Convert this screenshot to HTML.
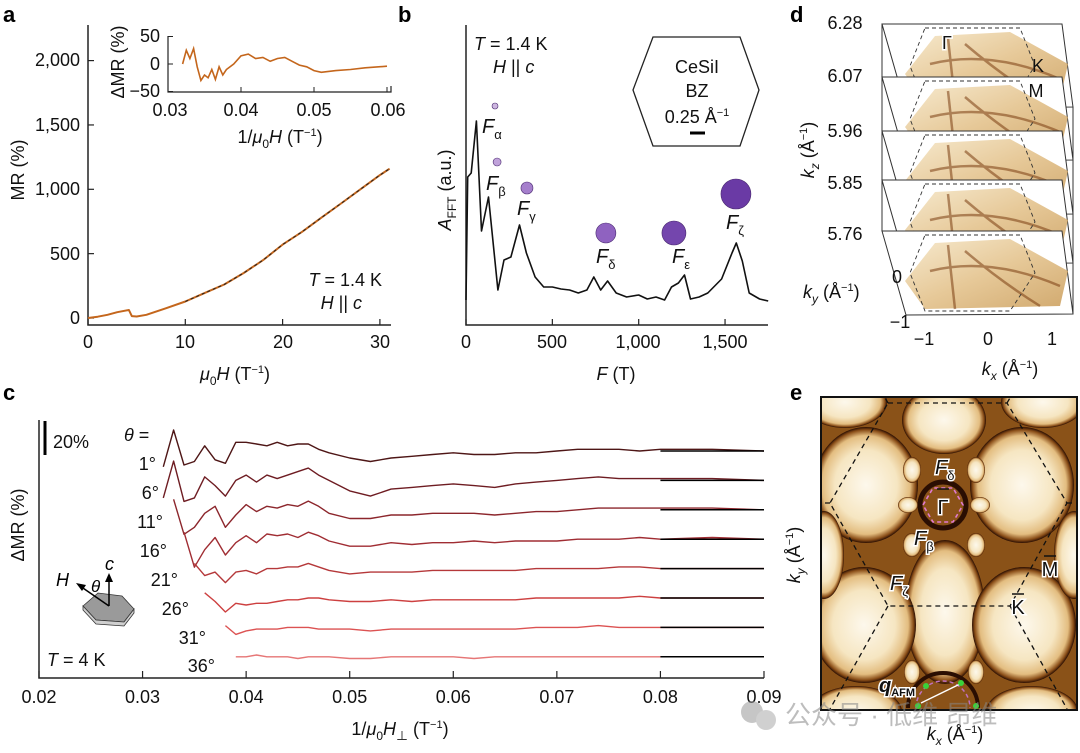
<!DOCTYPE html>
<html><head><meta charset="utf-8">
<style>
body{margin:0;background:#fff;}
svg{display:block;font-family:"Liberation Sans","Noto Sans CJK SC",sans-serif;}
.t{font-size:18px;fill:#111;}
.pl{font-size:22px;font-weight:bold;fill:#000;}
</style></head>
<body>
<svg id="fig" width="1080" height="753" viewBox="0 0 1080 753" xmlns="http://www.w3.org/2000/svg">
<defs>
<radialGradient id="eg" cx="50%" cy="50%" r="50%">
<stop offset="0%" stop-color="#fdf8ec"/><stop offset="60%" stop-color="#f6e6c2"/><stop offset="85%" stop-color="#e3bd80"/><stop offset="95%" stop-color="#8a4e18"/><stop offset="100%" stop-color="#2a0e02"/>
</radialGradient>
<linearGradient id="dg" x1="0" y1="0" x2="1" y2="1"><stop offset="0" stop-color="#f5e6c6"/><stop offset="0.5" stop-color="#e2bf86"/><stop offset="1" stop-color="#c99a55"/></linearGradient>
<clipPath id="eclip"><rect x="821" y="397" width="256" height="313"/></clipPath>
</defs>

<text class="pl" x="3" y="22">a</text>
<text class="pl" x="398" y="22">b</text>
<text class="pl" x="790" y="22">d</text>
<text class="pl" x="3" y="400">c</text>
<text class="pl" x="790" y="400">e</text>

<g id="pa">
<path d="M88,25 V325 H391" fill="none" stroke="#222" stroke-width="1.5"/>
<text class="t" x="80" y="324" text-anchor="end">0</text>
<text class="t" x="80" y="260" text-anchor="end">500</text>
<text class="t" x="80" y="195" text-anchor="end">1,000</text>
<text class="t" x="80" y="131" text-anchor="end">1,500</text>
<text class="t" x="80" y="66" text-anchor="end">2,000</text>
<text class="t" x="88" y="348" text-anchor="middle">0</text>
<text class="t" x="185" y="348" text-anchor="middle">10</text>
<text class="t" x="283" y="348" text-anchor="middle">20</text>
<text class="t" x="380" y="348" text-anchor="middle">30</text>
<text class="t" transform="translate(24,170) rotate(-90)" text-anchor="middle">MR (%)</text>
<text class="t" x="235" y="380" text-anchor="middle"><tspan font-style="italic">μ</tspan><tspan font-size="12" dy="5">0</tspan><tspan dy="-5" font-style="italic">H</tspan> (T<tspan font-size="11" dy="-7">−1</tspan><tspan dy="7">)</tspan></text>
<text class="t" x="382" y="286" text-anchor="end"><tspan font-style="italic">T</tspan> = 1.4 K</text>
<text class="t" x="362" y="309" text-anchor="end"><tspan font-style="italic">H</tspan> || <tspan font-style="italic">c</tspan></text>
<path d="M168,36 V92 H391 V86" fill="none" stroke="#222" stroke-width="1.2"/>
<text class="t" x="160" y="42" text-anchor="end">50</text>
<text class="t" x="160" y="70" text-anchor="end">0</text>
<text class="t" x="160" y="97" text-anchor="end">−50</text>
<text class="t" x="170" y="116" text-anchor="middle">0.03</text>
<text class="t" x="241" y="116" text-anchor="middle">0.04</text>
<text class="t" x="314" y="116" text-anchor="middle">0.05</text>
<text class="t" x="388" y="116" text-anchor="middle">0.06</text>
<text class="t" transform="translate(124,62) rotate(-90)" text-anchor="middle">ΔMR (%)</text>
<text class="t" x="280" y="143" text-anchor="middle">1/<tspan font-style="italic">μ</tspan><tspan font-size="12" dy="5">0</tspan><tspan dy="-5" font-style="italic">H</tspan> (T<tspan font-size="11" dy="-7">−1</tspan><tspan dy="7">)</tspan></text>
</g>

<g id="pb">
<path d="M466,25 V325 H768" fill="none" stroke="#222" stroke-width="1.5"/>
<text class="t" x="466" y="348" text-anchor="middle">0</text>
<text class="t" x="552" y="348" text-anchor="middle">500</text>
<text class="t" x="638" y="348" text-anchor="middle">1,000</text>
<text class="t" x="725" y="348" text-anchor="middle">1,500</text>
<text class="t" x="616" y="380" text-anchor="middle"><tspan font-style="italic">F</tspan> (T)</text>
<text class="t" transform="translate(451,190) rotate(-90)" text-anchor="middle"><tspan font-style="italic">A</tspan><tspan font-size="12" dy="5">FFT</tspan><tspan dy="-5"> (a.u.)</tspan></text>
<text class="t" x="474" y="50"><tspan font-style="italic">T</tspan> = 1.4 K</text>
<text class="t" x="493" y="73"><tspan font-style="italic">H</tspan> || <tspan font-style="italic">c</tspan></text>
<polygon points="633,90 653,37 740,37 759,90 740,146 653,146" fill="none" stroke="#222" stroke-width="1.3"/>
<text class="t" x="697" y="73" text-anchor="middle">CeSiI</text>
<text class="t" x="697" y="97" text-anchor="middle">BZ</text>
<text class="t" x="697" y="123" text-anchor="middle">0.25 Å<tspan font-size="11" dy="-7">−1</tspan></text>
<line x1="690" y1="133" x2="705" y2="133" stroke="#000" stroke-width="3"/>
<g font-size="20" font-style="italic" fill="#111">
<text x="482" y="133">F<tspan font-size="13" font-style="normal" dy="6">α</tspan></text>
<text x="486" y="190">F<tspan font-size="13" font-style="normal" dy="6">β</tspan></text>
<text x="517" y="215">F<tspan font-size="13" font-style="normal" dy="6">γ</tspan></text>
<text x="596" y="263">F<tspan font-size="13" font-style="normal" dy="6">δ</tspan></text>
<text x="672" y="263">F<tspan font-size="13" font-style="normal" dy="6">ε</tspan></text>
<text x="726" y="229">F<tspan font-size="13" font-style="normal" dy="6">ζ</tspan></text>
</g>
</g>

<g id="pc">
<path d="M39,420 V678 H764" fill="none" stroke="#222" stroke-width="1.5"/>
<line x1="45" y1="421" x2="45" y2="455" stroke="#000" stroke-width="3"/>
<text class="t" x="53" y="448">20%</text>
<text class="t" transform="translate(24,525) rotate(-90)" text-anchor="middle">ΔMR (%)</text>
<text class="t" x="400" y="735" text-anchor="middle">1/<tspan font-style="italic">μ</tspan><tspan font-size="12" dy="5">0</tspan><tspan dy="-5" font-style="italic">H</tspan><tspan font-size="12" dy="5">⊥</tspan><tspan dy="-5"> (T</tspan><tspan font-size="11" dy="-7">−1</tspan><tspan dy="7">)</tspan></text>
<text class="t" x="47" y="666"><tspan font-style="italic">T</tspan> = 4 K</text>
<text class="t" x="124" y="441"><tspan font-style="italic">θ</tspan> =</text>
<g class="t" font-size="18" fill="#111" text-anchor="end">
<text x="156" y="470">1°</text><text x="159" y="499">6°</text><text x="163" y="528">11°</text>
<text x="167" y="557">16°</text><text x="178" y="586">21°</text><text x="189" y="615">26°</text>
<text x="206" y="644">31°</text><text x="215" y="672">36°</text>
</g>
<g>
<polygon points="83,606 98,593 122,596 134,609 124,622 96,620" fill="#9a9a9a" stroke="#333" stroke-width="0.8"/>
<polygon points="96,620 124,622 134,609 134,613 124,626 96,624 83,610 83,606" fill="#cfcfcf" stroke="#333" stroke-width="0.8"/>
<line x1="109" y1="606" x2="109" y2="580" stroke="#000" stroke-width="1.5"/>
<polygon points="105,582 109,573 113,582" fill="#000"/>
<line x1="109" y1="606" x2="80" y2="586" stroke="#000" stroke-width="1.5"/>
<polygon points="76,583 86,585 82,591" fill="#000"/>
<text x="105" y="570" font-size="18" font-style="italic">c</text>
<text x="56" y="586" font-size="18" font-style="italic">H</text>
<text x="91" y="592" font-size="17" font-style="italic">θ</text>
</g>
</g>

<g id="pd"></g>
<g class="t">
<text x="845" y="29" text-anchor="middle">6.28</text>
<text x="845" y="82" text-anchor="middle">6.07</text>
<text x="845" y="137" text-anchor="middle">5.96</text>
<text x="845" y="189" text-anchor="middle">5.85</text>
<text x="845" y="240" text-anchor="middle">5.76</text>
<text transform="translate(814,150) rotate(-90)" text-anchor="middle"><tspan font-style="italic">k</tspan><tspan font-size="12" dy="5" font-style="italic">z</tspan><tspan dy="-5"> (Å</tspan><tspan font-size="11" dy="-7">−1</tspan><tspan dy="7">)</tspan></text>
<text x="897" y="283" text-anchor="middle">0</text>
<text x="803" y="298"><tspan font-style="italic">k</tspan><tspan font-size="12" dy="5" font-style="italic">y</tspan><tspan dy="-5"> (Å</tspan><tspan font-size="11" dy="-7">−1</tspan><tspan dy="7">)</tspan></text>
<text x="900" y="328" text-anchor="middle">−1</text>
<text x="924" y="345" text-anchor="middle">−1</text>
<text x="988" y="345" text-anchor="middle">0</text>
<text x="1052" y="345" text-anchor="middle">1</text>
<text x="1010" y="375" text-anchor="middle"><tspan font-style="italic">k</tspan><tspan font-size="12" dy="5" font-style="italic">x</tspan><tspan dy="-5"> (Å</tspan><tspan font-size="11" dy="-7">−1</tspan><tspan dy="7">)</tspan></text>
</g>

<g id="pe" clip-path="url(#eclip)">
<rect x="821" y="397" width="256" height="313" fill="#8a5218"/>
</g>
<g id="peover">
<rect x="821" y="397" width="256" height="313" fill="none" stroke="#111" stroke-width="2"/>
<g fill="none" stroke="#111" stroke-width="1.3" stroke-dasharray="5,4" clip-path="url(#eclip)">
<path d="M888,403 H1007 L1067,503 L1010,606 H888 L830,503 Z"/>
<path d="M888,403 L830,300 M1007,403 L1067,300 M888,606 L830,709 M1010,606 L1067,709 M830,503 L780,503 M1067,503 L1100,503"/>
</g>
<circle cx="943" cy="505" r="23" fill="none" stroke="#2a0e02" stroke-width="5"/>
<polygon points="923,505 933,488 953,488 963,505 953,522 933,522" fill="none" stroke="#e07ad0" stroke-width="1.6" stroke-dasharray="4,3"/>
<path d="M908,708 A35,35 0 0 1 978,708" fill="none" stroke="#2a0e02" stroke-width="4"/>
<path d="M916,708 A27,27 0 0 1 970,708" fill="none" stroke="#c070c0" stroke-width="1.5" stroke-dasharray="4,3"/>
<g font-size="20" font-style="italic" fill="#111" stroke="#fff" stroke-width="3" paint-order="stroke">
<text x="935" y="474">F<tspan font-size="13" font-style="normal" dy="6">δ</tspan></text>
<text x="914" y="545">F<tspan font-size="13" font-style="normal" dy="6">β</tspan></text>
<text x="890" y="590">F<tspan font-size="13" font-style="normal" dy="6">ζ</tspan></text>
</g>
<g font-size="20" fill="#111" stroke="#fff" stroke-width="3" paint-order="stroke">
<text x="943" y="514" text-anchor="middle">Γ</text>
<text x="1050" y="576" text-anchor="middle">M</text>
<text x="1018" y="614" text-anchor="middle">K</text>
<text x="879" y="692" font-weight="bold" font-style="italic">q<tspan font-size="11" dy="4" font-style="normal">AFM</tspan></text>
</g>
<g stroke="#111" stroke-width="1.5"><line x1="937" y1="489" x2="949" y2="489"/><line x1="1044" y1="556" x2="1056" y2="556"/><line x1="1012" y1="594" x2="1024" y2="594"/></g>
<line x1="921" y1="703" x2="960" y2="684" stroke="#fff" stroke-width="1.5"/>
<g fill="#3ad23a"><circle cx="918" cy="706" r="3"/><circle cx="961" cy="683" r="3"/><circle cx="926" cy="686" r="3"/><circle cx="976" cy="706" r="3"/></g>
</g>
<text class="t" transform="translate(800,555) rotate(-90)" text-anchor="middle"><tspan font-style="italic">k</tspan><tspan font-size="12" dy="5" font-style="italic">y</tspan><tspan dy="-5"> (Å</tspan><tspan font-size="11" dy="-7">−1</tspan><tspan dy="7">)</tspan></text>
<text class="t" x="955" y="740" text-anchor="middle"><tspan font-style="italic">k</tspan><tspan font-size="12" dy="5" font-style="italic">x</tspan><tspan dy="-5"> (Å</tspan><tspan font-size="11" dy="-7">−1</tspan><tspan dy="7">)</tspan></text>
<g opacity="0.55">
<circle cx="752" cy="712" r="11" fill="#999"/><circle cx="766" cy="720" r="10" fill="#aaa"/>
<text x="785" y="724" font-size="26" fill="#888">公众号 · 低维 昂维</text>
</g>
</svg>

<script>
// ---- Panel a data ----
const aField=[0,1,2,3,4.2,4.5,5,6,8,10,12,14,16,18,20,22,24,26,28,30,31];
const aMR=[0,10,25,45,62,15,12,25,75,128,195,260,350,450,570,670,780,890,1000,1110,1160];
const insetInvH=[0.032,0.0325,0.033,0.0335,0.034,0.0345,0.035,0.0355,0.036,0.0365,0.037,0.0375,0.038,0.039,0.040,0.041,0.042,0.043,0.044,0.045,0.046,0.047,0.048,0.049,0.050,0.051,0.053,0.055,0.057,0.060];
const insetDMR=[0,25,10,28,-5,-30,-20,-25,-10,-28,-5,-20,-10,0,15,18,10,12,5,10,12,5,-2,-5,-12,-15,-12,-10,-7,-4];
// ---- Panel b data ----
const bFreq=[0,10,30,60,90,130,185,220,260,310,350,400,450,500,550,600,650,700,740,780,820,870,930,1000,1050,1100,1150,1190,1230,1265,1300,1350,1400,1480,1540,1565,1600,1640,1700,1750];
const bAmp=[12.5,74,76,102,47,64,17.5,32.5,34,50,36,24,19,19,18,17.5,16,17.5,24,17.5,22,16,14,15,13,14,12.5,19,21,25,13,14,16,23,36,41,32,16,13,12];
const bPeakNames=["alpha","beta","gamma","delta","epsilon","zeta"];
const bPeakF=[168,180,353,810,1204,1563];
const bPeakLevel=[109.5,81.5,68.5,46,46,65.5];
const bPeakSize=[3,4,6,10,12,15];
// ---- Panel c data ----
const cInvH=[0.032,0.033,0.034,0.035,0.036,0.037,0.038,0.039,0.040,0.041,0.042,0.043,0.044,0.045,0.046,0.047,0.048,0.050,0.052,0.054,0.056,0.058,0.060,0.062,0.064,0.066,0.068,0.070,0.072,0.074,0.076,0.078,0.080,0.085,0.090];
const cAngles=["1","6","11","16","21","26","31","36"];
const c1=[-9,12,-8,-6,3,-5,-7,5,5,4,3,5,3,4,4,1,-1,-4,-6,-4,-3,-2,-1,-2,-2,-1,-1,0,1,1,1,0,1,1,0];
const c6=[-10,11,-12,-10,2,-3,-9,0,3,-1,3,1,3,5,7,3,0,-6,-9,-5,-4,-3,-2,-3,-4,-2,-1,0,1,2,1,1,1,1,0];
const c11=[null,6,-14,-10,-2,2,-10,-3,3,-1,2,1,3,2,5,2,-2,-5,-5,-3,-3,-2,-2,-2,-3,-2,-1,-1,0,1,1,1,1,1,0];
const c16=[null,null,4,-16,-6,1,-9,-2,2,-2,3,2,3,1,4,2,-1,-4,-4,-2,-3,-2,-2,-1,-2,-1,-1,-1,0,0,0,1,0,1,0];
const c21=[null,null,null,3,-4,-2,-8,-2,-1,-3,0,0,1,1,3,1,-1,-3,-2,-2,-2,-1,-1,-1,-1,-1,0,0,0,0,1,1,0,0,0];
const c26=[null,null,null,null,3,-2,-8,-3,-4,-3,-3,-2,-1,-1,0,0,-1,-2,-2,-1,-2,-1,-1,-1,-1,-1,0,0,0,0,0,1,0,0,0];
const c31=[null,null,null,null,null,null,1,-4,-2,-1,-1,-1,0,0,0,-1,-1,-1,-2,-1,-1,-1,-1,-1,-1,-1,0,0,0,1,0,0,0,0,0];
const c36=[null,null,null,null,null,null,null,0,0,1,0,0,0,-1,0,0,0,-1,-1,0,0,0,0,-1,0,0,0,0,0,0,0,0,0,0,0];
const cSeries=[c1,c6,c11,c16,c21,c26,c31,c36];
const cRefStart=0.08, cRefEnd=0.09;

const NS="http://www.w3.org/2000/svg";
const svg=document.getElementById('fig');
function mk(tag,attrs,parent){const e=document.createElementNS(NS,tag);for(const k in attrs)e.setAttribute(k,attrs[k]);(parent||svg).appendChild(e);return e;}
function pathFrom(xs,ys,fx,fy){let d="",pen=false;for(let i=0;i<xs.length;i++){if(ys[i]===null||ys[i]===undefined){pen=false;continue;}d+=(pen?"L":"M")+fx(xs[i]).toFixed(1)+","+fy(ys[i]).toFixed(1);pen=true;}return d;}

const ax=h=>88+h*9.73, ay=m=>318-m*0.1287;
const ix=v=>168+(v-0.03)*7300, iy=d=>64-d*0.55;
const bx=f=>466+f*0.1727, by=a=>325-a*2;
const cx=v=>39+(v-0.02)*10357, cScale=1.75;
const cBase=i=>451+i*29.4;

const pa=document.getElementById('pa');
[0,500,1000,1500,2000].forEach(v=>{const t=mk('line',{x1:88,x2:94,y1:ay(v),y2:ay(v),stroke:'#222','stroke-width':1.2},pa);

});
[0,10,20,30].forEach(v=>{const t=mk('line',{x1:ax(v),x2:ax(v),y1:325,y2:319,stroke:'#222','stroke-width':1.2},pa);

});
[0.03,0.04,0.05,0.06].forEach(v=>{const t=mk('line',{x1:ix(v),x2:ix(v),y1:92,y2:87,stroke:'#222','stroke-width':1},pa);

});
[50,0,-50].forEach(v=>{const t=mk('line',{x1:168,x2:173,y1:iy(v),y2:iy(v),stroke:'#222','stroke-width':1},pa);

});
const aLine=mk('path',{d:pathFrom(aField,aMR,ax,ay),fill:'none',stroke:'#c4661c','stroke-width':2,'stroke-linejoin':'round'},pa);


const aFit=mk('path',{d:pathFrom(aField.slice(9),aMR.slice(9),ax,ay),fill:'none',stroke:'#222','stroke-width':1,'stroke-dasharray':'3,3'},pa);


const iLine=mk('path',{d:pathFrom(insetInvH,insetDMR,ix,iy),fill:'none',stroke:'#c4661c','stroke-width':1.6},pa);



const pb=document.getElementById('pb');
[0,500,1000,1500].forEach(v=>{const t=mk('line',{x1:bx(v),x2:bx(v),y1:325,y2:319,stroke:'#222','stroke-width':1.2},pb);

});
const bLine=mk('path',{d:pathFrom(bFreq,bAmp,bx,by),fill:'none',stroke:'#111','stroke-width':1.6,'stroke-linejoin':'round'},pb);


const pCols=["#cdb6e0","#c0a2da","#a57fcc","#8f62c0","#7446ad","#6a3aa5"];
bPeakF.forEach((f,i)=>{const c=mk('circle',{cx:bx(f),cy:by(bPeakLevel[i]),r:bPeakSize[i],fill:pCols[i],stroke:'#4a2a70','stroke-width':0.6},pb);

});

const pc=document.getElementById('pc');
[0.02,0.03,0.04,0.05,0.06,0.07,0.08,0.09].forEach(v=>{
const t=mk('line',{x1:cx(v),x2:cx(v),y1:678,y2:671,stroke:'#222','stroke-width':1.2},pc);


const l=mk('text',{x:cx(v),y:703,'text-anchor':'middle',class:'t'},pc);l.textContent=v.toFixed(2);

});
const cCols=["#4e1616","#6e1c22","#8c262c","#a02d33","#b5383a","#cd4040","#dc5252","#e67676"];
cSeries.forEach((s,i)=>{const b=cBase(i);
const p=mk('path',{d:pathFrom(cInvH,s,cx,v=>b-v*cScale),fill:'none',stroke:cCols[i],'stroke-width':1.4,'stroke-linejoin':'round'},pc);


const r=mk('line',{x1:cx(cRefStart),x2:cx(cRefEnd),y1:b,y2:b,stroke:'#000','stroke-width':1.5},pc);

});

const pd=document.getElementById('pd');
[24,77,131,180,231].forEach((b,i)=>{
const g=mk('g',{},pd);


mk('polygon',{points:`882,${b} 1062,${b} 1073,${b+83} 906,${b+84}`,fill:'#fff',stroke:'#333','stroke-width':1},g);
mk('polygon',{points:`905,${b+50} 935,${b+12} 1010,${b+8} 1068,${b+40} 1060,${b+75} 925,${b+78}`,fill:'url(#dg)',opacity:0.85},g);
mk('path',{d:`M948,${b+14} L955,${b+78} M930,${b+40} Q990,${b+25} 1060,${b+55} M965,${b+20} Q1000,${b+50} 1040,${b+75}`,fill:'none',stroke:'#7a3d10','stroke-width':2.5,opacity:0.55},g);
mk('polygon',{points:`925,${b+4} 1020,${b+4} 1035,${b+42} 1010,${b+80} 925,${b+80} 910,${b+42}`,fill:'none',stroke:'#333','stroke-width':0.9,'stroke-dasharray':'4,3'},g);
});
mk('line',{x1:882,y1:24,x2:882,y2:231,stroke:'#333','stroke-width':1},pd);
mk('line',{x1:1073,y1:107,x2:1073,y2:314,stroke:'#333','stroke-width':1},pd);
const gl=mk('text',{x:947,y:49,'text-anchor':'middle','font-size':18,fill:'#111',stroke:'#fff','stroke-width':3,'paint-order':'stroke'},pd);gl.textContent='Γ';
const kl=mk('text',{x:1038,y:72,'text-anchor':'middle','font-size':18,fill:'#111'},pd);kl.textContent='K';
const ml=mk('text',{x:1036,y:97,'text-anchor':'middle','font-size':18,fill:'#111'},pd);ml.textContent='M';

const pe=document.getElementById('pe');
[[944,420,42,34],[866,485,52,58],[1022,485,52,58],[945,612,40,72],[864,625,52,58],[1024,625,52,58],
 [845,402,42,26],[1043,402,42,26],[824,555,20,44],[1074,555,20,44],[856,712,46,26],[1032,712,46,26],
 [912,470,9,13],[976,470,9,13],[908,505,10,8],[980,505,10,8],[912,545,9,12],[976,545,9,12],[912,672,8,12],[976,672,8,12]].forEach(e=>{
const el=mk('ellipse',{cx:e[0],cy:e[1],rx:e[2],ry:e[3],fill:'url(#eg)'},pe);

});
</script>
</body></html>
